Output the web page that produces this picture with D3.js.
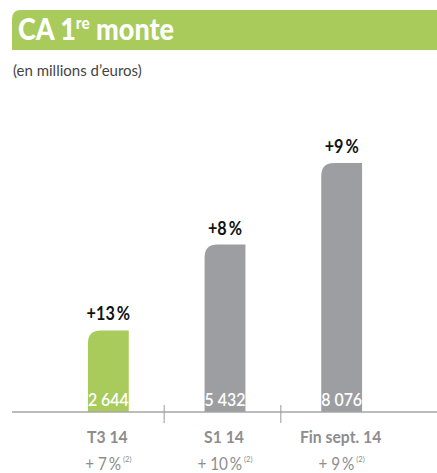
<!DOCTYPE html>
<html><head><meta charset="utf-8">
<script src="https://cdn.jsdelivr.net/npm/d3@7"></script>
<style>
html,body{margin:0;padding:0;background:#fff;}
svg{display:block;}
</style></head>
<body>
<script>
const categories = ["T3 14", "S1 14", "Fin sept. 14"];
const values = [2644, 5432, 8076];
const valueLabels = ["2 644", "5 432", "8 076"];
const growthTop = ["+13", "+8", "+9"];
const growthBottom = ["+ 7", "+ 10", "+ 9"];

const W = 437, H = 473;
const FONT = "Lato, 'Open Sans', sans-serif";
const green = "#a9cb5b", grey = "#9d9ea2";

const svg = d3.select("body").append("svg").attr("width", W).attr("height", H);

// text helper: places text at (x,y) horizontally compressed by factor f
function label(x, y, f, anchor) {
  return svg.append("text").attr("transform", `translate(${x},${y}) scale(${f},1)`)
    .attr("text-anchor", anchor || "middle").attr("font-family", FONT);
}

// Header band with rounded top-left corner
const r = 9;
svg.append("path")
  .attr("d", `M12,50 L12,${10+r} Q12,10 ${12+r},10 L437,10 L437,50 Z`)
  .attr("fill", "#a8cb5c");
const title = label(18, 40, 0.9, "start").attr("fill", "#fff").attr("font-weight", 900).attr("font-size", 30);
title.append("tspan").text("CA 1");
title.append("tspan").attr("font-size", 17).attr("dy", -11).text("re");
title.append("tspan").attr("dy", 11).text(" monte");

label(13, 76, 1.0, "start").attr("fill", "#444").attr("font-size", 15)
  .text("(en millions d\u2019euros)");

const x = d3.scaleBand().domain(categories).range([50, 400]).paddingInner(0.65).paddingOuter(0.325);
const y = d3.scaleLinear().domain([0, 8076]).range([412, 163]);

const bw = x.bandwidth();
const rr = 13;
function barPath(x0, y0, w, y1) {
  const rad = Math.min(rr, y1 - y0);
  return `M${x0},${y1} L${x0},${y0+rad} Q${x0},${y0} ${x0+rad},${y0} L${x0+w},${y0} L${x0+w},${y1} Z`;
}

categories.forEach((c, i) => {
  const x0 = x(c), cx = x0 + bw / 2, top = y(values[i]);
  svg.append("path").attr("d", barPath(x0, top, bw, y(0))).attr("fill", i === 0 ? green : grey);
  svg.append("text").attr("x", cx).attr("y", 406).attr("text-anchor", "middle")
    .attr("fill", "#fff").attr("font-family", FONT).attr("font-weight", 600).attr("font-size", 18)
    .attr("textLength", bw).attr("lengthAdjust", "spacingAndGlyphs")
    .text(valueLabels[i]);
  label(cx, top - 10, 0.9).attr("fill", "#111").attr("font-weight", "bold").attr("font-size", 18)
    .text(growthTop[i] + "\u2009%");
  label(cx - 1, 443, 0.9).attr("fill", "#8d8d8f").attr("font-weight", "bold").attr("font-size", 17.5)
    .text(c);
  const b = label(cx, 470, 0.9).attr("fill", "#8d8d8f").attr("font-size", 17);
  b.append("tspan").text(growthBottom[i] + "\u2009%");
  b.append("tspan").attr("font-size", 8.5).attr("dy", -8).text(" (2)");
});

// axis baseline
svg.append("line").attr("x1", 12).attr("x2", W).attr("y1", y(0)).attr("y2", y(0))
  .attr("stroke", "#a6a6a6").attr("stroke-width", 1.5);
// separator ticks between categories
for (let i = 1; i < categories.length; i++) {
  const mx = (x(categories[i-1]) + x(categories[i]) + bw) / 2 - 2.5;
  svg.append("line").attr("x1", mx).attr("x2", mx).attr("y1", 405).attr("y2", 423)
    .attr("stroke", "#999").attr("stroke-width", 1);
}
</script>
</body></html>
